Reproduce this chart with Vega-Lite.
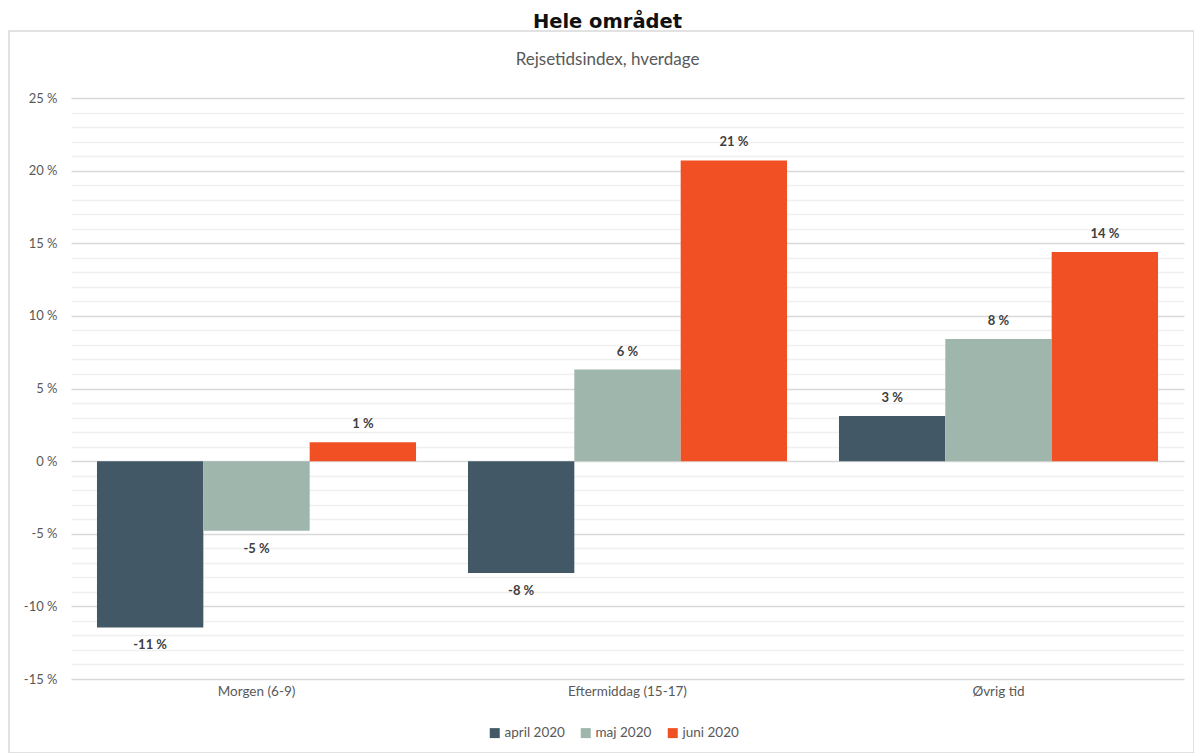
{
  "$schema": "https://vega.github.io/schema/vega-lite/v6.json",
  "width": 1185,
  "height": 722,
  "autosize": {"type": "none"},
  "padding": {"left": 9, "top": 31, "right": 0, "bottom": 0},
  "background": "white",
  "config": {
    "font": "Lato",
    "view": {"stroke": "#d9d9d9", "strokeWidth": 1.5}
  },
  "title": {
    "text": "Hele området",
    "subtitle": "Rejsetidsindex, hverdage",
    "anchor": "middle",
    "dx": 6,
    "offset": -38,
    "fontSize": 19.5,
    "fontWeight": "bold",
    "color": "#111111",
    "font": "DejaVu Sans",
    "subtitleFont": "Lato",
    "subtitleFontSize": 17,
    "subtitleColor": "#595959",
    "subtitlePadding": 20
  },
  "data": {
    "values": [
      {"period": "Morgen (6-9)", "month": "april 2020", "value": -11.45},
      {"period": "Morgen (6-9)", "month": "maj 2020", "value": -4.8},
      {"period": "Morgen (6-9)", "month": "juni 2020", "value": 1.3},
      {"period": "Eftermiddag (15-17)", "month": "april 2020", "value": -7.7},
      {"period": "Eftermiddag (15-17)", "month": "maj 2020", "value": 6.3},
      {"period": "Eftermiddag (15-17)", "month": "juni 2020", "value": 20.7},
      {"period": "Øvrig tid", "month": "april 2020", "value": 3.1},
      {"period": "Øvrig tid", "month": "maj 2020", "value": 8.4},
      {"period": "Øvrig tid", "month": "juni 2020", "value": 14.4}
    ]
  },
  "transform": [{"calculate": "round(datum.value) + ' %'", "as": "label"}],
  "encoding": {
    "x": {
      "field": "period",
      "type": "nominal",
      "sort": ["Morgen (6-9)", "Eftermiddag (15-17)", "Øvrig tid"],
      "scale": {"range": [62, 1175], "paddingInner": 0.14, "paddingOuter": 0.07},
      "axis": {
        "title": null,
        "labelAngle": 0,
        "ticks": false,
        "domain": false,
        "offset": -74,
        "labelPadding": 5,
        "labelFontSize": 13.5,
        "labelColor": "#595959",
        "labelFont": "Lato"
      }
    },
    "xOffset": {
      "field": "month",
      "type": "nominal",
      "sort": ["april 2020", "maj 2020", "juni 2020"],
      "scale": {"paddingInner": 0, "paddingOuter": 0}
    },
    "y": {
      "field": "value",
      "type": "quantitative",
      "scale": {"domain": [-15, 25], "range": [648, 67], "nice": false, "zero": false},
      "axis": {
        "title": null,
        "values": [-15, -14, -13, -12, -11, -10, -9, -8, -7, -6, -5, -4, -3, -2, -1, 0, 1, 2, 3, 4, 5, 6, 7, 8, 9, 10, 11, 12, 13, 14, 15, 16, 17, 18, 19, 20, 21, 22, 23, 24, 25],
        "labelExpr": "datum.value % 5 === 0 ? datum.value + ' %' : ''",
        "ticks": false,
        "domain": false,
        "offset": -62,
        "labelPadding": 14,
        "labelFontSize": 13,
        "labelColor": "#595959",
        "labelFont": "Lato",
        "grid": true,
        "gridColor": {"condition": {"test": "datum.value % 5 === 0", "value": "#d9d9d9"}, "value": "#f0f0f0"},
        "gridWidth": 1.3
      }
    }
  },
  "layer": [
    {
      "mark": {"type": "bar"},
      "encoding": {
        "color": {
          "field": "month",
          "type": "nominal",
          "sort": ["april 2020", "maj 2020", "juni 2020"],
          "scale": {"domain": ["april 2020", "maj 2020", "juni 2020"], "range": ["#435866", "#9eb6ac", "#f05023"]},
          "legend": {
            "orient": "none",
            "legendX": 479,
            "legendY": 695,
            "direction": "horizontal",
            "title": null,
            "symbolType": "square",
            "symbolSize": 100,
            "symbolStrokeWidth": 0,
            "labelFontSize": 13.5,
            "labelColor": "#595959",
            "labelFont": "Lato",
            "columnPadding": 14,
            "labelOffset": 3
          }
        }
      }
    },
    {
      "transform": [{"filter": "datum.value >= 0"}],
      "mark": {"type": "text", "dy": -18, "fontSize": 13, "fontWeight": "bold", "color": "#404040", "font": "Lato"},
      "encoding": {"text": {"field": "label", "type": "nominal"}}
    },
    {
      "transform": [{"filter": "datum.value < 0"}],
      "mark": {"type": "text", "dy": 18, "fontSize": 13, "fontWeight": "bold", "color": "#404040", "font": "Lato"},
      "encoding": {"text": {"field": "label", "type": "nominal"}}
    }
  ]
}
